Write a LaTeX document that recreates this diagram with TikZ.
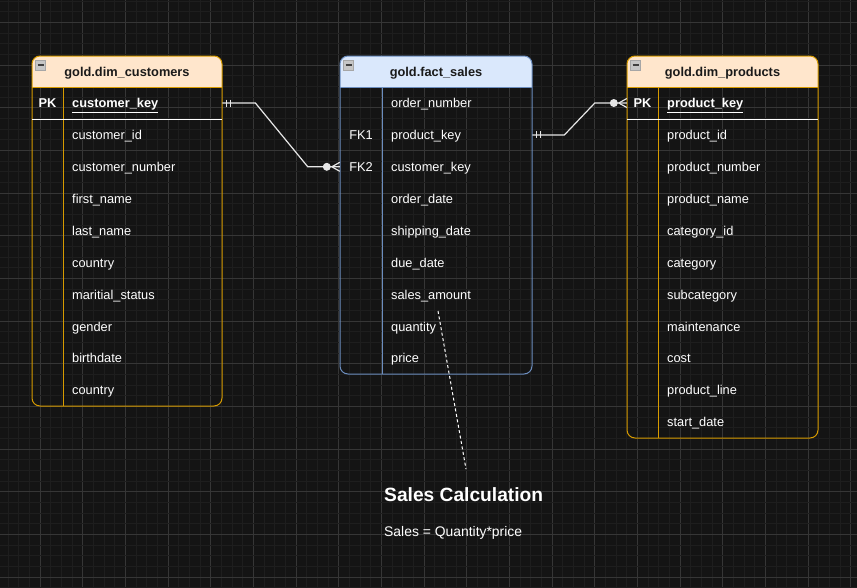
\documentclass[tikz,border=0pt]{standalone}
\usepackage{fontspec}
\setmainfont{Liberation Sans}
\usetikzlibrary{positioning, calc}
\definecolor{erd_bg}{HTML}{141414}
\definecolor{erd_minor}{HTML}{1E1E1E}
\definecolor{erd_major}{HTML}{363636}
\definecolor{erd_orange}{HTML}{D79B00}
\definecolor{erd_orange_fill}{HTML}{FFE6CC}
\definecolor{erd_blue}{HTML}{6C8EBF}
\definecolor{erd_blue_fill}{HTML}{DAE8FC}
\definecolor{erd_ink}{HTML}{1A1A1A}
\definecolor{erd_line}{HTML}{E6E6E6}
\newcommand{\erdsize}{\fontsize{12.8}{15}\selectfont}

\tikzset{
  gridminor/.style={erd_minor, line width=1pt},
  gridmajor/.style={erd_major, line width=1pt},
  tableframe/.style={line width=1pt, rounded corners=8pt},
  headtext/.style={font=\erdsize\bfseries, text=erd_ink, inner sep=0pt},
  keycell/.style={minimum width=#1, minimum height=31.9, inner sep=0pt,
    font=\erdsize, text=white, text height=10.7, text depth=1.3},
  fieldrow/.style={anchor=west, text width=#1, minimum height=31.9,
    inner xsep=9, inner ysep=0, align=left, font=\erdsize, text=white,
    text height=10.7, text depth=1.3},
  minusicon/.style={draw=gray!70, fill=gray!45, minimum size=10, inner sep=0pt,
    path picture={\draw[black!75, line width=1.6pt]
      ([xshift=2pt]path picture bounding box.west) --
      ([xshift=-2pt]path picture bounding box.east);}},
  relation/.style={erd_line, line width=1.2pt},
  notedash/.style={white, line width=1pt, dash pattern=on 3pt off 2.5pt},
}

\begin{document}
\begin{tikzpicture}[x=1pt, y=-1pt]
  \useasboundingbox (0,0) rectangle (857,587);
  % --- Background grid ---
  \fill[erd_bg] (0,0) rectangle (857,587);
  \foreach \i in {0,...,81} {
    \pgfmathsetmacro{\gx}{-2.667+\i*10.667}
    \pgfmathtruncatemacro{\ismaj}{mod(\i,4)==0}
    \ifnum\ismaj=1 \draw[gridmajor] (\gx,0) -- (\gx,587);
    \else \draw[gridminor] (\gx,0) -- (\gx,587); \fi
  }
  \foreach \j in {0,...,55} {
    \pgfmathsetmacro{\gy}{1+\j*10.667}
    \pgfmathtruncatemacro{\ismaj}{mod(\j,4)==2}
    \ifnum\ismaj=1 \draw[gridmajor] (0,\gy) -- (857,\gy);
    \else \draw[gridminor] (0,\gy) -- (857,\gy); \fi
  }

  % --- gold.dim_customers ---
  \begin{scope}
    \clip[rounded corners=8pt] (32,56) rectangle (222,406);
    \fill[erd_orange_fill] (32,56) rectangle (222,87);
  \end{scope}
  \draw[tableframe, erd_orange] (32,56) rectangle (222,406);
  \draw[erd_orange, line width=1pt] (32,87) -- (222,87) (63,87) -- (63,406);
  \draw[white, line width=1pt] (32,119) -- (222,119);
  \node[headtext] (custhead) at (127,73) {gold.dim\_customers};
  \node[minusicon] (custicon) at (40.5,65) {};
  \node[keycell=31, font=\erdsize\bfseries] (custpk) at (47.5,103) {PK};
  \node[fieldrow=141, font=\erdsize\bfseries] (custkey) at (63,103)
    {\underline{customer\_key}};
  \foreach \f [count=\n] in {customer\_id, customer\_number, first\_name,
      last\_name, country, maritial\_status, gender, birthdate, country} {
    \node[fieldrow=141] (cust\n) at (63,103+\n*31.9) {\f};
  }

  % --- gold.fact_sales ---
  \begin{scope}
    \clip[rounded corners=8pt] (340,56) rectangle (532,374);
    \fill[erd_blue_fill] (340,56) rectangle (532,87);
  \end{scope}
  \draw[tableframe, erd_blue] (340,56) rectangle (532,374);
  \draw[erd_blue, line width=1pt] (340,87) -- (532,87) (382,87) -- (382,374);
  \node[headtext] (saleshead) at (436,73) {gold.fact\_sales};
  \node[minusicon] (salesicon) at (348.5,65) {};
  \foreach \k/\f [count=\n] in {/order\_number, FK1/product\_key,
      FK2/customer\_key, /order\_date, /shipping\_date, /due\_date,
      /sales\_amount, /quantity, /price} {
    \node[keycell=42] (saleskey\n) at (361,103+\n*31.9-31.9) {\k};
    \node[fieldrow=132] (sales\n) at (382,103+\n*31.9-31.9) {\f};
  }

  % --- gold.dim_products ---
  \begin{scope}
    \clip[rounded corners=8pt] (627,56) rectangle (818,438);
    \fill[erd_orange_fill] (627,56) rectangle (818,87);
  \end{scope}
  \draw[tableframe, erd_orange] (627,56) rectangle (818,438);
  \draw[erd_orange, line width=1pt] (627,87) -- (818,87) (658,87) -- (658,438);
  \draw[white, line width=1pt] (627,119) -- (818,119);
  \node[headtext] (prodhead) at (722.5,73) {gold.dim\_products};
  \node[minusicon] (prodicon) at (635.5,65) {};
  \node[keycell=31, font=\erdsize\bfseries] (prodpk) at (642.5,103) {PK};
  \node[fieldrow=142, font=\erdsize\bfseries] (prodkey) at (658,103)
    {\underline{product\_key}};
  \foreach \f [count=\n] in {product\_id, product\_number, product\_name,
      category\_id, category, subcategory, maintenance, cost, product\_line,
      start\_date} {
    \node[fieldrow=142] (prod\n) at (658,103+\n*31.9) {\f};
  }

  % --- Relations ---
  \draw[relation] (custkey.east) -- ++(33,0)
    -- ($(saleskey3.west)+(-32,0)$) -- (saleskey3.west);
  \draw[relation] ($(custkey.east)+(4,-3.5)$) -- ++(0,7)
    ($(custkey.east)+(8,-3.5)$) -- ++(0,7);
  \fill[erd_line] ($(saleskey3.west)+(-13,0)$) circle[radius=4pt];
  \draw[relation] ($(saleskey3.west)+(-8,0)$) -- ($(saleskey3.west)+(0,-4.5)$)
    ($(saleskey3.west)+(-8,0)$) -- ($(saleskey3.west)+(0,4.5)$);

  \draw[relation] (sales2.east) -- ++(32,0)
    -- ($(prodpk.west)+(-32,0)$) -- (prodpk.west);
  \draw[relation] ($(sales2.east)+(4,-3.5)$) -- ++(0,7)
    ($(sales2.east)+(8,-3.5)$) -- ++(0,7);
  \fill[erd_line] ($(prodpk.west)+(-13,0)$) circle[radius=4pt];
  \draw[relation] ($(prodpk.west)+(-8,0)$) -- ($(prodpk.west)+(0,-4.5)$)
    ($(prodpk.west)+(-8,0)$) -- ($(prodpk.west)+(0,4.5)$);

  % --- Note ---
  \node[anchor=west, inner sep=0pt, text=white,
        font=\fontsize{19.2}{22}\selectfont\bfseries] (calctitle) at (384,495)
    {Sales Calculation};
  \node[anchor=west, inner sep=0pt, text=white,
        font=\fontsize{13.9}{16}\selectfont] (calcformula) at (384,533)
    {Sales = Quantity*price};
  \coordinate (notefrom) at (438,311);
  \coordinate (noteto) at (466,469);
  \draw[notedash] (notefrom) -- (noteto);
\end{tikzpicture}
\end{document}
